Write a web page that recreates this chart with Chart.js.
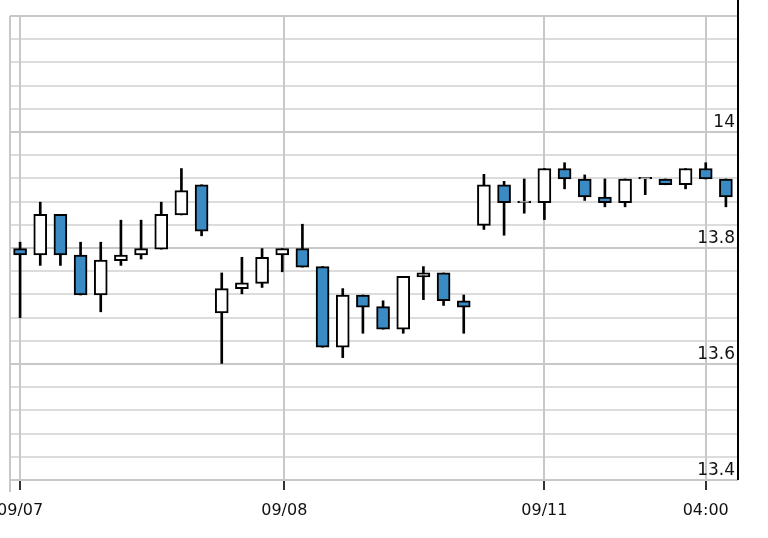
<!DOCTYPE html>
<html><head><meta charset="utf-8">
<script src="https://cdn.jsdelivr.net/npm/chart.js@4"></script>
<style>html,body{margin:0;padding:0;background:#fff}#w{width:768px;height:538px}</style>
</head><body><div id="w"><canvas id="c"></canvas></div>
<script>
const opens  = [13.799,13.788,13.858,13.788,13.719,13.778,13.788,13.798,13.857,13.909,13.688,13.730,13.739,13.788,13.799,13.768,13.629,13.719,13.699,13.660,13.750,13.757,13.709,13.839,13.909,13.878,13.878,13.937,13.919,13.888,13.878,13.919,13.919,13.909,13.937,13.919];
const highs  = [13.810,13.879,13.858,13.810,13.810,13.848,13.848,13.879,13.937,13.909,13.757,13.784,13.799,13.799,13.841,13.768,13.730,13.719,13.709,13.751,13.768,13.757,13.719,13.927,13.915,13.919,13.937,13.947,13.926,13.919,13.919,13.919,13.919,13.937,13.947,13.919];
const lows   = [13.680,13.770,13.770,13.719,13.690,13.770,13.781,13.798,13.857,13.821,13.601,13.721,13.732,13.759,13.767,13.629,13.611,13.653,13.660,13.653,13.711,13.701,13.653,13.832,13.822,13.860,13.849,13.902,13.882,13.871,13.871,13.892,13.909,13.902,13.919,13.871];
const closes = [13.788,13.858,13.788,13.719,13.779,13.788,13.799,13.858,13.899,13.829,13.730,13.740,13.784,13.799,13.767,13.629,13.719,13.698,13.660,13.751,13.757,13.709,13.698,13.909,13.878,13.879,13.937,13.919,13.888,13.878,13.919,13.919,13.909,13.937,13.919,13.888];
const xTickPos = [0, 13.1, 26, 34];
const xTickLabels = ['09/07','09/08','09/11','04:00'];
const yLabelVals = [13.4, 13.6, 13.8, 14];

const idx = opens.map((_, i) => i);
const wickData = idx.map(i => ({x: i, y: [lows[i], highs[i]]}));
const bodyData = idx.map(i => {
  let a = opens[i], b = closes[i];
  if (Math.abs(a - b) < 0.003) b = a + 0.003;
  return {x: i, y: [Math.min(a, b), Math.max(a, b)]};
});
const bodyColors = idx.map(i => closes[i] < opens[i] ? '#3a8ac4' : '#ffffff');

const under = {
  id: 'under',
  beforeDatasetsDraw(chart) {
    const ctx = chart.ctx, x = chart.scales.x, a = chart.chartArea;
    ctx.save();
    ctx.strokeStyle = '#c8c8c8'; ctx.lineWidth = 2;
    ctx.beginPath(); ctx.moveTo(a.left, a.top); ctx.lineTo(a.left, a.bottom + 12); ctx.stroke();
    xTickPos.forEach(v => { const px = Math.round(x.getPixelForValue(v));
      ctx.strokeStyle = '#c8c8c8'; ctx.beginPath(); ctx.moveTo(px, a.top); ctx.lineTo(px, a.bottom); ctx.stroke();
      ctx.strokeStyle = '#333'; ctx.beginPath(); ctx.moveTo(px, a.bottom); ctx.lineTo(px, a.bottom + 10); ctx.stroke(); });
    ctx.strokeStyle = '#c8c8c8';
    ctx.beginPath(); ctx.moveTo(a.left, a.bottom); ctx.lineTo(a.right, a.bottom); ctx.stroke();
    ctx.fillStyle = '#111'; ctx.font = '16px "DejaVu Sans"'; ctx.textAlign = 'center'; ctx.textBaseline = 'middle';
    xTickPos.forEach((v, i) => ctx.fillText(xTickLabels[i], x.getPixelForValue(v), 511));
    ctx.restore();
  },
  afterDraw(chart) {
    const ctx = chart.ctx, y = chart.scales.y, a = chart.chartArea;
    ctx.save();
    ctx.strokeStyle = '#000'; ctx.lineWidth = 2;
    ctx.beginPath(); ctx.moveTo(a.right, 0); ctx.lineTo(a.right, a.bottom); ctx.stroke();
    ctx.fillStyle = '#111'; ctx.font = '17px "DejaVu Sans"';
    ctx.textAlign = 'right'; ctx.textBaseline = 'bottom';
    yLabelVals.forEach(v => ctx.fillText(String(v), a.right - 3, y.getPixelForValue(v) - 1));
    ctx.restore();
  }
};

new Chart(document.getElementById('c'), {
  type: 'bar',
  data: { datasets: [
    { data: wickData, backgroundColor: '#000', borderWidth: 0, barThickness: 2, grouped: false, order: 2 },
    { data: bodyData, backgroundColor: bodyColors, borderColor: '#000', borderWidth: 2, borderSkipped: false, barThickness: 13, grouped: false, order: 1 }
  ]},
  options: {
    responsive: true, maintainAspectRatio: false, animation: false,
    layout: { padding: { top: 16, left: 10, right: 0, bottom: 0 } },
    plugins: { legend: { display: false }, tooltip: { enabled: false } },
    scales: {
      x: {
        type: 'linear', min: -0.5, max: 35.6, offset: false,
        afterFit: s => { s.height = 58; },
        ticks: { display: false },
        grid: { display: false },
        border: { display: false }
      },
      y: {
        position: 'right', min: 13.4, max: 14.2,
        afterBuildTicks: s => { const t = []; for (let k = 0; k <= 20; k++) t.push({value: +(13.4 + k * 0.04).toFixed(2)}); s.ticks = t; },
        afterFit: s => { s.width = 30; },
        ticks: { display: false },
        grid: { drawTicks: false,
          color: c => (Math.round(c.tick.value * 100) % 20 === 0) ? '#c8c8c8' : '#dcdcdc',
          lineWidth: 2 },
        border: { display: false }
      }
    }
  },
  plugins: [under]
});
</script></body></html>
